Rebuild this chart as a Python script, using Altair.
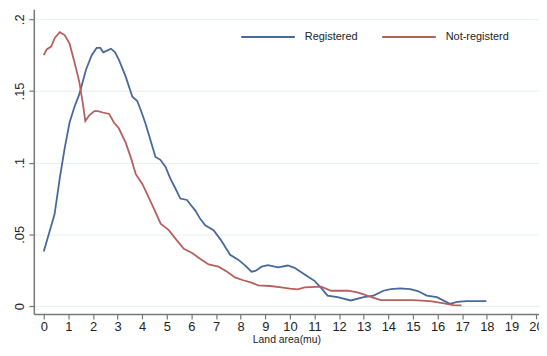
import altair as alt
import pandas as pd

reg_x = [0.0, 0.22, 0.44, 0.65, 0.85, 1.05, 1.25, 1.45, 1.72, 1.95, 2.15, 2.3, 2.42, 2.55, 2.73, 2.9,
         3.06, 3.33, 3.6, 3.8, 4.0, 4.14, 4.35, 4.54, 4.74, 4.95, 5.14, 5.35, 5.55, 5.82, 6.0, 6.16,
         6.35, 6.56, 6.9, 7.2, 7.57, 7.9, 8.2, 8.44, 8.6, 8.85, 9.11, 9.52, 9.92, 10.19, 10.6, 11.0,
         11.25, 11.53, 11.94, 12.47, 13.0, 13.4, 13.8, 14.1, 14.48, 14.89, 15.2, 15.56, 15.97, 16.5,
         16.8, 17.18, 17.98]
reg_y = [0.038, 0.051, 0.064, 0.089, 0.110, 0.128, 0.139, 0.148, 0.165, 0.175, 0.180, 0.180, 0.177,
         0.178, 0.1795, 0.177, 0.1715, 0.160, 0.146, 0.143, 0.134, 0.127, 0.115, 0.104, 0.102, 0.097,
         0.089, 0.082, 0.075, 0.074, 0.070, 0.0666, 0.061, 0.0563, 0.0529, 0.046, 0.0358, 0.0324,
         0.028, 0.024, 0.0245, 0.0275, 0.0285, 0.027, 0.0283, 0.0267, 0.022, 0.0176, 0.013, 0.0073,
         0.0062, 0.0039, 0.0062, 0.0073, 0.0107, 0.0118, 0.0123, 0.0119, 0.0105, 0.0073, 0.0062,
         0.0016, 0.0030, 0.0034, 0.0034]

not_x = [0.0, 0.12, 0.3, 0.45, 0.65, 0.85, 1.05, 1.25, 1.45, 1.6, 1.69, 1.85, 2.06, 2.2, 2.4, 2.66,
         2.85, 3.05, 3.33, 3.55, 3.74, 4.01, 4.2, 4.42, 4.75, 5.08, 5.4, 5.69, 6.03, 6.35, 6.7, 7.1,
         7.45, 7.77, 8.1, 8.44, 8.71, 9.2, 9.65, 10.0, 10.32, 10.6, 11.27, 11.67, 12.35, 12.7, 13.0,
         13.35, 13.69, 14.3, 15.0, 15.7, 16.2, 16.64, 16.97]
not_y = [0.175, 0.179, 0.181, 0.187, 0.191, 0.189, 0.183, 0.170, 0.156, 0.140, 0.129, 0.133, 0.136,
         0.136, 0.135, 0.134, 0.128, 0.124, 0.114, 0.103, 0.092, 0.085, 0.078, 0.070, 0.0575, 0.053,
         0.046, 0.040, 0.037, 0.033, 0.029, 0.0275, 0.024, 0.020, 0.018, 0.0164, 0.0144, 0.014, 0.013,
         0.0122, 0.0117, 0.013, 0.0135, 0.0107, 0.0107, 0.0098, 0.0082, 0.006, 0.0042, 0.0042, 0.0042,
         0.0034, 0.002, 0.0006, 0.0005]

series = ["Registered", "Not-registerd"]
colors = ["#47699a", "#b5605c"]
x_ticks = list(range(0, 21))
y_ticks = [0, 0.05, 0.1, 0.15, 0.2]

df = pd.concat([
    pd.DataFrame({"x": reg_x, "y": reg_y, "s": series[0], "o": range(len(reg_x))}),
    pd.DataFrame({"x": not_x, "y": not_y, "s": series[1], "o": range(len(not_x))}),
])

FONT = "Liberation Sans"

chart = alt.Chart(df).mark_line(strokeWidth=1.8).encode(
    x=alt.X("x:Q", scale=alt.Scale(domain=[-0.403, 20.12], nice=False, zero=False),
            axis=alt.Axis(values=x_ticks, title="Land area(mu)", grid=False, format="d",
                          labelFontSize=13, labelFont=FONT, labelColor="#222",
                          labelPadding=2, tickSize=5, tickColor="#777", domainColor="#777",
                          domainWidth=1.5, tickWidth=1.2, titleFont=FONT, titleFontSize=10.5,
                          titleFontWeight="normal", titleColor="#222", titlePadding=1,
                          labelOverlap=False, labelFlush=False)),
    y=alt.Y("y:Q", scale=alt.Scale(domain=[-0.0055, 0.207], nice=False, zero=False),
            axis=alt.Axis(values=y_ticks, title=None, grid=True, gridColor="#e6eff1", gridWidth=1,
                          labelExpr="datum.value == 0 ? '0' : substring(format(datum.value, '.2~f'), 1)",
                          labelAngle=270, labelAlign="center", labelBaseline="bottom",
                          labelFontSize=13, labelFont=FONT, labelColor="#222", labelPadding=2,
                          tickSize=5, tickColor="#777", domainColor="#777", domainWidth=1.5,
                          tickWidth=1.2, labelOverlap=False)),
    color=alt.Color("s:N", scale=alt.Scale(domain=series, range=colors),
                    legend=alt.Legend(title=None, orient="none", legendX=208, legendY=0,
                                      direction="horizontal", symbolType="stroke",
                                      symbolSize=2916, symbolStrokeWidth=2, labelFont=FONT,
                                      labelFontSize=11, labelColor="#222", labelOffset=9,
                                      columnPadding=20, padding=0)),
    order="o:Q",
).properties(
    width=509, height=307,
    padding={"left": 26, "top": 0, "right": 0, "bottom": 30},
    autosize=alt.AutoSizeParams(type="none"),
).configure_view(stroke=None)

chart.save("out.html", embed_options={"renderer": "svg", "actions": False})
